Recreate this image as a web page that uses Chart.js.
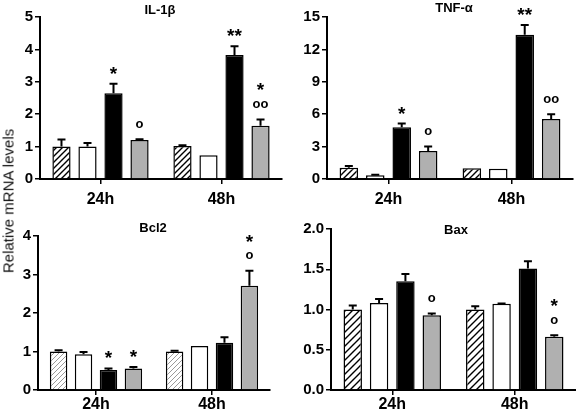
<!DOCTYPE html>
<html>
<head>
<meta charset="utf-8">
<script src="https://cdn.jsdelivr.net/npm/chart.js@4"></script>
<style>
  body { margin: 0; background: #fff; }
  #wrap { position: relative; width: 576px; height: 414px; overflow: hidden; }
  canvas { position: absolute; }
  #ylab {
    position: absolute; left: 8px; top: 201px; white-space: nowrap;
    font: 15px "Liberation Sans", Arial, sans-serif; color: #111;
    transform: translate(-50%, -50%) rotate(-90deg);
  }
</style>
</head>
<body>
<div id="wrap">
  <canvas id="c1" width="288" height="207" style="left:0;top:0"></canvas>
  <canvas id="c2" width="288" height="207" style="left:288px;top:0"></canvas>
  <canvas id="c3" width="288" height="207" style="left:0;top:207px"></canvas>
  <canvas id="c4" width="288" height="207" style="left:288px;top:207px"></canvas>
  <div id="ylab">Relative mRNA levels</div>
</div>
<script>
const timePoints = ["24h", "48h"];
// series order in every panel: hatched, white, black, gray

const il1bMean = [[1.0, 1.02], [1.0, 0.73], [2.65, 3.83], [1.2, 1.64]];
const il1bErr = [[0.22, 0.02], [0.11, 0], [0.29, 0.27], [0.03, 0.2]];
const il1bMarks = [["", ""], ["", ""], ["*", "**"], ["o", "*|oo"]];

const tnfMean = [[1.05, 1.0], [0.35, 0.95], [4.8, 13.35], [2.6, 5.55]];
const tnfErr = [[0.15, 0], [0.05, 0], [0.33, 0.9], [0.4, 0.45]];
const tnfMarks = [["", ""], ["", ""], ["*", "**"], ["o", "oo"]];

const bcl2Mean = [[1.0, 1.0], [0.93, 1.14], [0.52, 1.23], [0.56, 2.71]];
const bcl2Err = [[0.03, 0.02], [0.06, 0], [0.04, 0.14], [0.04, 0.39]];
const bcl2Marks = [["", ""], ["", ""], ["*", ""], ["*", "*|o"]];

const baxMean = [[1.0, 1.0], [1.08, 1.07], [1.35, 1.51], [0.93, 0.66]];
const baxErr = [[0.05, 0.04], [0.05, 0.005], [0.09, 0.09], [0.02, 0.02]];
const baxMarks = [["", ""], ["", ""], ["", ""], ["o", "*|o"]];

const FONT = '"Liberation Sans", Arial, sans-serif';

function hatch(size, color, lw) {
    const c = document.createElement("canvas");
    c.width = c.height = size;
    const g = c.getContext("2d");
    g.fillStyle = "#fff";
    g.fillRect(0, 0, size, size);
    g.strokeStyle = color;
    g.lineWidth = lw;
    g.beginPath();
    g.moveTo(-1, size + 1); g.lineTo(size + 1, -1);
    g.moveTo(-1, 1); g.lineTo(1, -1);
    g.moveTo(size - 1, size + 1); g.lineTo(size + 1, size - 1);
    g.stroke();
    return g.createPattern(c, "repeat");
}

function makeChart(id, box, yMax, yStep, decimals, mean, err, marks, title, hatchFill) {
    const W = 288, H = 207;
    const fills = [hatchFill, "#ffffff", "#000000", "#b0b0b0"];

    const extras = {
        id: "extras",
        afterDatasetsDraw(chart) {
            const ctx = chart.ctx;
            const y = chart.scales.y;
            ctx.save();
            ctx.strokeStyle = "#000";
            ctx.fillStyle = "#000";
            ctx.lineWidth = 2;
            mean.forEach((vals, i) => {
                const meta = chart.getDatasetMeta(i);
                vals.forEach((v, j) => {
                    const bar = meta.data[j];
                    const top = y.getPixelForValue(v + err[i][j]);
                    if (err[i][j] > 0.004) {
                        ctx.beginPath();
                        ctx.moveTo(bar.x, bar.y);
                        ctx.lineTo(bar.x, top);
                        ctx.moveTo(bar.x - 4, top);
                        ctx.lineTo(bar.x + 4, top);
                        ctx.stroke();
                    }
                    const m = marks[i][j];
                    if (!m) return;
                    const lines = m.split("|").reverse();
                    let cy = top - 15;
                    ctx.textAlign = "center";
                    ctx.textBaseline = "alphabetic";
                    lines.forEach(line => {
                        if (line.startsWith("*")) {
                            ctx.font = "bold 19px " + FONT;
                            ctx.fillText(line, bar.x, cy + 0.58 * 19);
                        } else {
                            ctx.font = "bold 13px " + FONT;
                            ctx.fillText(line, bar.x, cy + 0.27 * 13);
                        }
                        cy -= 19;
                    });
                });
            });
            ctx.font = "bold 13px " + FONT;
            ctx.textAlign = "center";
            ctx.textBaseline = "middle";
            ctx.fillText(title.text, title.x, title.y);
            ctx.restore();
        },
    };

    const tickStyle = {
        display: true,
        drawOnChartArea: false,
        drawTicks: true,
        tickLength: 5,
        color: "#000",
        lineWidth: 1.5,
    };

    return new Chart(document.getElementById(id), {
        type: "bar",
        data: {
            labels: timePoints,
            datasets: mean.map((vals, i) => ({
                data: vals,
                backgroundColor: fills[i],
                borderColor: "#000",
                borderWidth: 1.5,
                categoryPercentage: 0.86,
                barPercentage: 0.7,
            })),
        },
        options: {
            responsive: false,
            animation: false,
            devicePixelRatio: 1,
            layout: { padding: { top: box.top, right: W - box.right, left: 0, bottom: 0 } },
            plugins: { legend: false, tooltip: { enabled: false } },
            scales: {
                x: {
                    offset: true,
                    grid: { ...tickStyle, offset: false },
                    border: { display: true, color: "#000", width: 2 },
                    ticks: { color: "#000", padding: box.labelPad, font: { family: FONT, size: 16, weight: "bold" } },
                    afterFit(s) { s.height = H - box.bottom; },
                },
                y: {
                    min: 0,
                    max: yMax,
                    grid: tickStyle,
                    border: { display: true, color: "#000", width: 2 },
                    ticks: {
                        stepSize: yStep,
                        color: "#000",
                        padding: 2,
                        font: { family: FONT, size: 15, weight: "bold" },
                        callback: v => v.toFixed(decimals),
                    },
                    afterFit(s) { s.width = box.left; },
                },
            },
        },
        plugins: [extras],
    });
}

makeChart("c1", { left: 40, right: 282, top: 17, bottom: 179, labelPad: 6 }, 5, 1, 0,
    il1bMean, il1bErr, il1bMarks, { text: "IL-1β", x: 160, y: 10 }, hatch(6, "#000", 1.4));
makeChart("c2", { left: 39, right: 285, top: 17, bottom: 179, labelPad: 6 }, 15, 3, 0,
    tnfMean, tnfErr, tnfMarks, { text: "TNF-α", x: 166, y: 8 }, hatch(6, "#000", 1.4));
makeChart("c3", { left: 38, right: 270, top: 29, bottom: 183, labelPad: 0 }, 4, 1, 0,
    bcl2Mean, bcl2Err, bcl2Marks, { text: "Bcl2", x: 153, y: 21 }, hatch(5, "#9a9a9a", 1));
makeChart("c4", { left: 43, right: 288, top: 22, bottom: 183, labelPad: 0 }, 2, 0.5, 1,
    baxMean, baxErr, baxMarks, { text: "Bax", x: 168, y: 23 }, hatch(7, "#000", 1.4));
</script>
</body>
</html>
